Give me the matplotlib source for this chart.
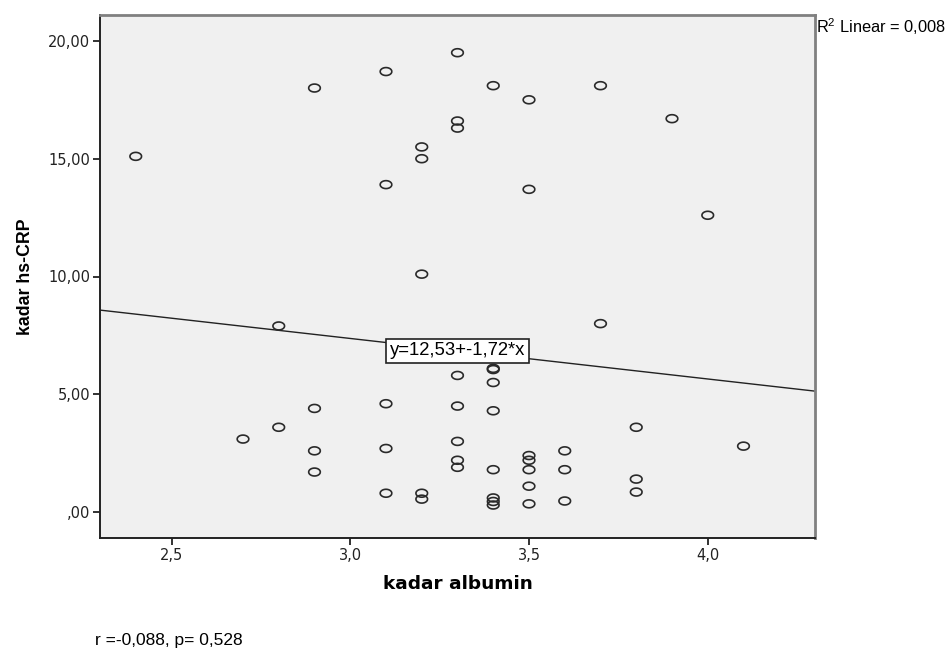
import numpy as np
import matplotlib
matplotlib.use("Agg")
import matplotlib.pyplot as plt
from matplotlib.path import Path

# kadar albumin vs kadar hs-CRP
albumin = [2.4, 2.9, 3.1, 3.3, 3.4, 3.5, 3.7, 3.9, 3.3, 3.3,
           3.2, 3.2, 3.1, 3.5, 4.0, 3.2, 2.8, 3.7, 3.4, 3.4,
           3.3, 3.4, 2.9, 3.1, 3.3, 3.4, 2.8, 2.7, 3.8, 4.1,
           2.9, 3.1, 3.3, 3.3, 3.3, 3.5, 3.5, 3.6, 2.9, 3.4,
           3.5, 3.6, 3.8, 3.5, 3.1, 3.2, 3.2, 3.4, 3.4, 3.4,
           3.5, 3.6, 3.8]
hscrp = [15.1, 18.0, 18.7, 19.5, 18.1, 17.5, 18.1, 16.7, 16.6, 16.3,
         15.5, 15.0, 13.9, 13.7, 12.6, 10.1, 7.9, 8.0, 6.1, 6.05,
         5.8, 5.5, 4.4, 4.6, 4.5, 4.3, 3.6, 3.1, 3.6, 2.8,
         2.6, 2.7, 3.0, 2.2, 1.9, 2.4, 2.2, 2.6, 1.7, 1.8,
         1.8, 1.8, 1.4, 1.1, 0.8, 0.8, 0.55, 0.6, 0.45, 0.3,
         0.35, 0.47, 0.85]

intercept = 12.53
slope = -1.72
r2_text = "0,008"
stats_text = "r =-0,088, p= 0,528"

xticks = [2.5, 3.0, 3.5, 4.0]
yticks = [0, 5, 10, 15, 20]

plt.rcParams["font.family"] = ["Liberation Sans", "DejaVu Sans"]
plt.rcParams["mathtext.fontset"] = "custom"
plt.rcParams["mathtext.rm"] = "Liberation Sans"

fig = plt.figure(figsize=(9.48, 6.48), dpi=100)
ax = fig.add_axes([100 / 948, 110 / 648, 715 / 948, 523 / 648])
ax.set_facecolor("#f0f0f0")

# flattened open circle like SPSS markers
t = np.linspace(0, 2 * np.pi, 60)
ellipse = Path(np.column_stack([np.cos(t), 0.68 * np.sin(t)]))

ax.scatter(albumin, hscrp, marker=ellipse, s=70, facecolors="none",
           edgecolors="#2a2a2a", linewidths=1.2, zorder=3)

xlim = (2.3, 4.3)
xs = np.array(xlim)
ax.plot(xs, intercept + slope * xs, color="#222222", lw=1.0, zorder=2)
ax.set_xlim(*xlim)
ax.set_ylim(-1.1, 21.1)

ax.text(3.3, 6.84, "y=12,53+-1,72*x", ha="center", va="center", fontsize=13.3,
        zorder=4,
        bbox=dict(boxstyle="square,pad=0.18", fc="white", ec="#222222", lw=1.2))


def comma(v, nd):
    s = f"{v:.{nd}f}".replace(".", ",")
    return s[1:] if s.startswith("0,") else s


ax.set_xticks(xticks)
ax.set_xticklabels([comma(v, 1) for v in xticks],
                   family="DejaVu Sans", fontsize=10.5, color="#222222")
ax.set_yticks(yticks)
ax.set_yticklabels([comma(v, 2) for v in yticks],
                   family="DejaVu Sans", fontsize=10.5, color="#222222")
ax.tick_params(direction="out", length=5, width=1.3, color="#222222", pad=2)

for side in ["left", "bottom"]:
    ax.spines[side].set_color("#222222")
    ax.spines[side].set_linewidth(1.4)
for side in ["top", "right"]:
    ax.spines[side].set_color("#808080")
    ax.spines[side].set_linewidth(2.0)

ax.set_xlabel("kadar albumin", family="DejaVu Sans", fontweight="bold",
              fontsize=13.3, labelpad=9)
ax.set_ylabel("kadar hs-CRP", fontweight="bold", fontsize=12.8, labelpad=10)

fig.text(816 / 948, 1 - 27 / 648, r"R$^{2}$ Linear = " + r2_text,
         fontsize=11.8, ha="left", va="center")
fig.text(95 / 948, 1 - 640 / 648, stats_text,
         fontsize=12.5, ha="left", va="center")

fig.savefig("out.png", dpi=100, facecolor="white")
